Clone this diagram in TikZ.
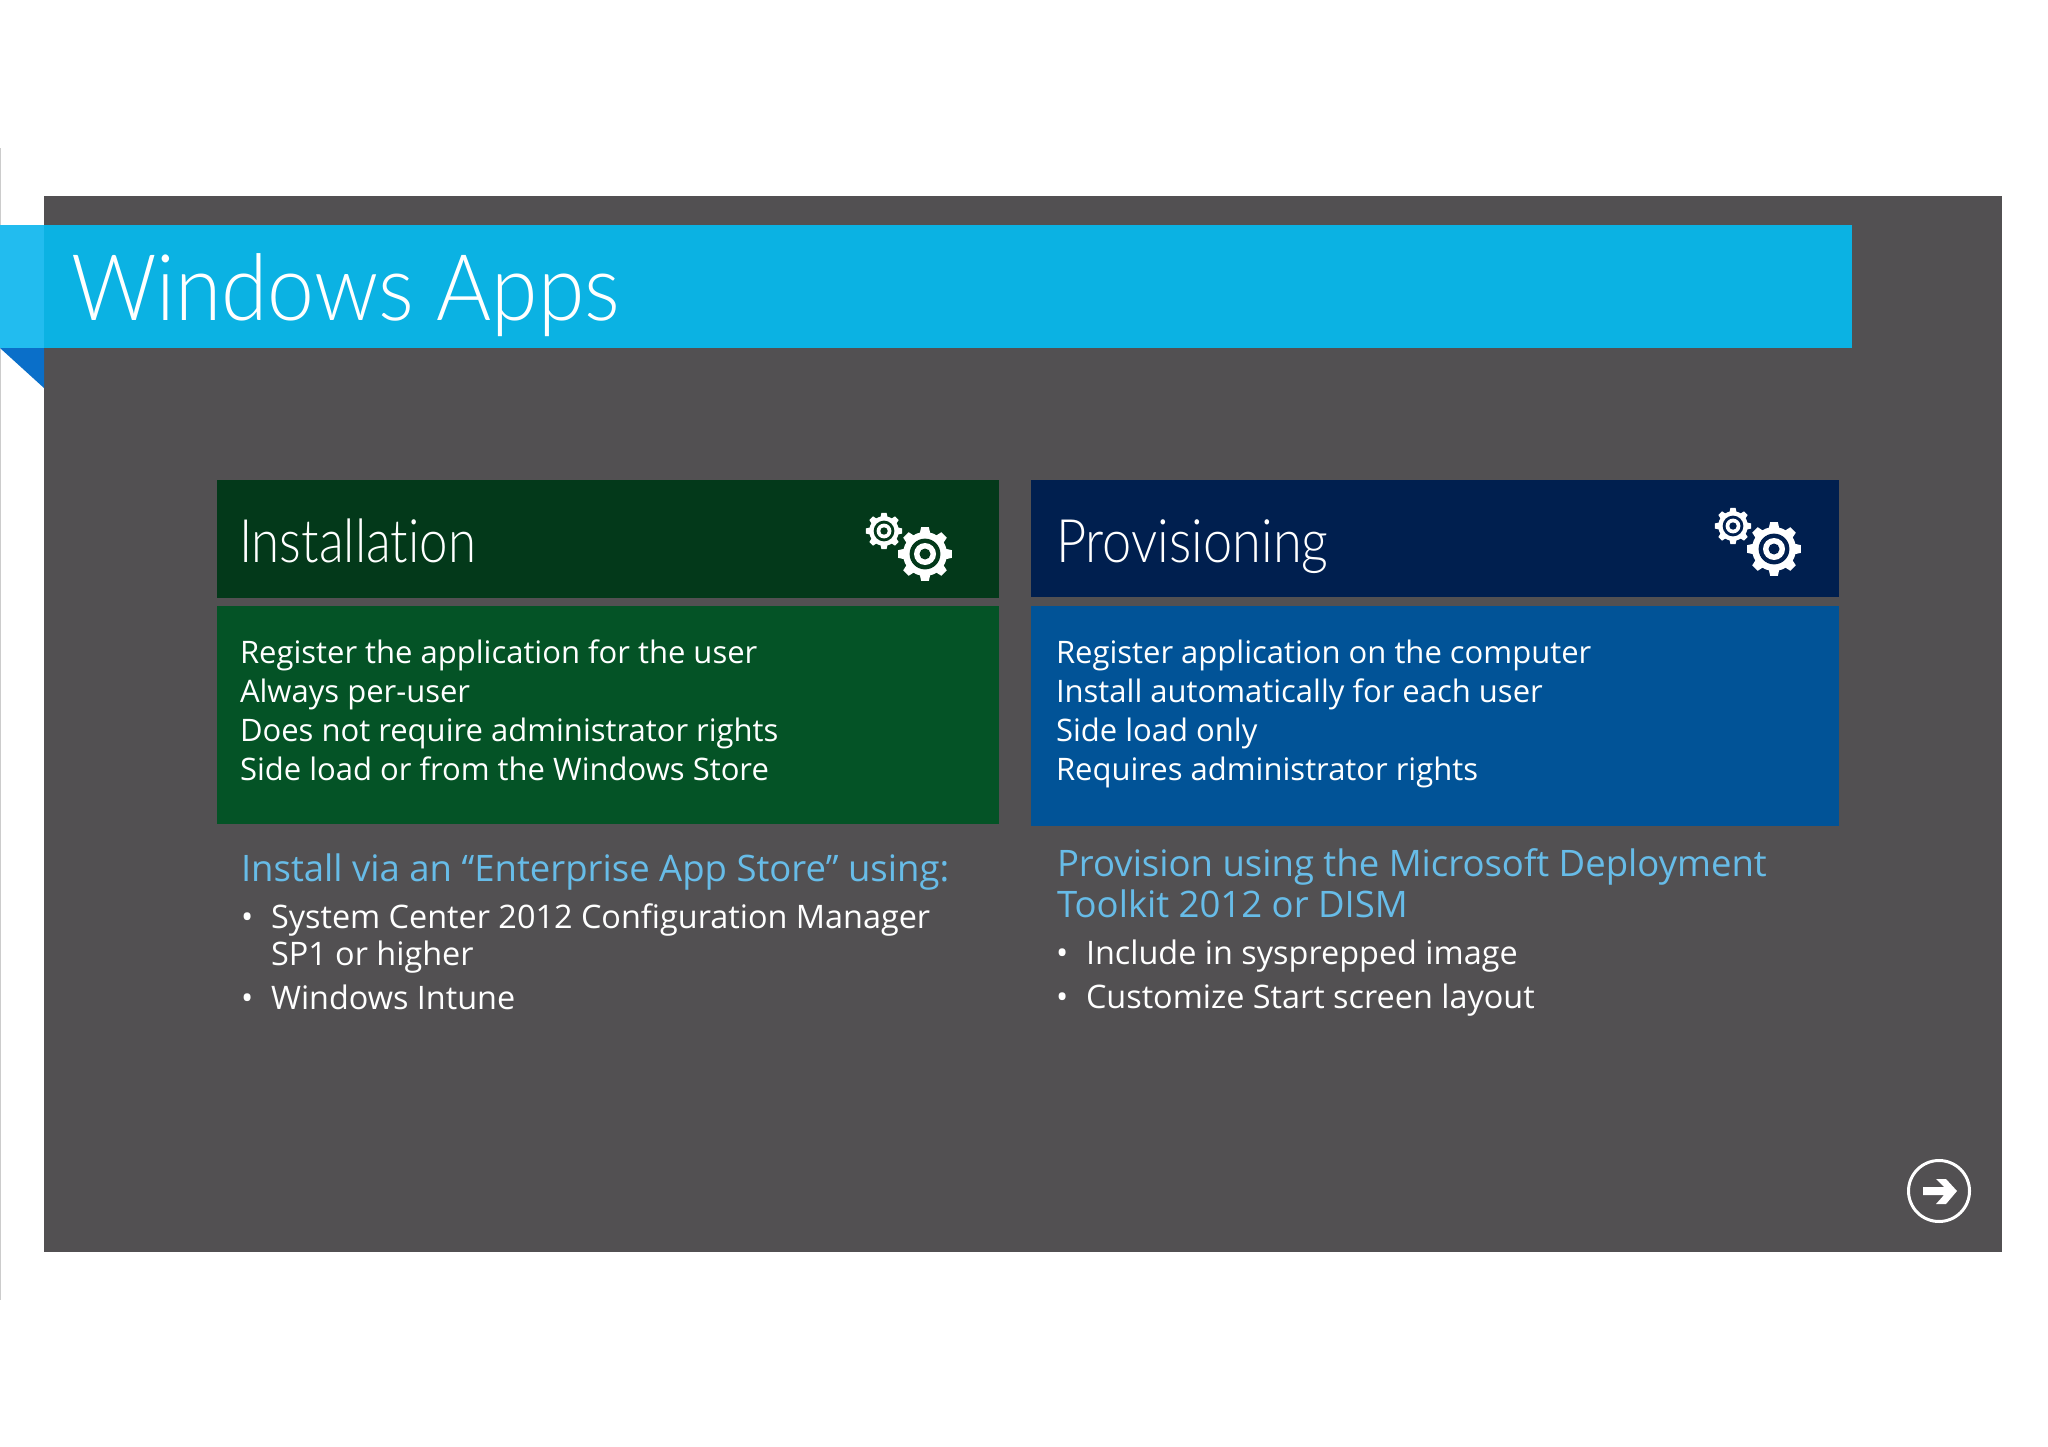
\documentclass[tikz,border=0pt]{standalone}
\usepackage{fontspec}
\setmainfont{Open Sans}
\newfontfamily\titlef[FakeStretch=0.914,Ligatures=NoCommon]{Lato Light}
\newfontfamily\instf[FakeStretch=0.85,Ligatures=NoCommon]{Lato Light}
\newfontfamily\provf[FakeStretch=0.873,Ligatures=NoCommon]{Lato Light}
\definecolor{panelc}{HTML}{525052}
\definecolor{bannerc}{HTML}{0BB2E3}
\definecolor{bannerl}{HTML}{22BCEF}
\definecolor{foldc}{HTML}{0A6FC9}
\definecolor{greenh}{HTML}{03391A}
\definecolor{greenb}{HTML}{045326}
\definecolor{blueh}{HTML}{001F4F}
\definecolor{blueb}{HTML}{015397}
\definecolor{linkc}{HTML}{67BCE8}
\tikzset{
  x=1pt,y=-1pt,
  txt/.style={anchor=base west,inner sep=0pt,outer sep=0pt,text=white},
  body/.style={txt,font=\fontsize{31}{39}\selectfont},
  lead/.style={txt,text=linkc,font=\fontsize{36.5}{41}\selectfont},
  item/.style={txt,font=\fontsize{32.4}{37}\selectfont},
}
\newcommand{\gearat}[4]{%
  \begin{scope}[shift={(#1,#2)},x=#3pt,y=#3pt]
    \fill[white,line join=round] \foreach \a in {0,45,...,315}{
       [rotate=\a] (-0.14,0.98) -- (0.14,0.98) -- (0.2,0.7) -- (-0.2,0.7) -- cycle };
    \fill[white] (0,0) circle[radius=0.8];
    \fill[#4] (0,0) circle[radius=0.56];
    \fill[white] (0,0) circle[radius=0.4];
    \fill[#4] (0,0) circle[radius=0.2];
  \end{scope}}
\begin{document}
\begin{tikzpicture}
\useasboundingbox (0,0) rectangle (2048,1447);
\fill[white] (0,0) rectangle (2048,1447);
\fill[black!20] (0,148) rectangle (1.2,1300);
\fill[panelc] (44,196) rectangle (2002,1252);
\fill[foldc] (0,348) -- (44,348) -- (44,388) -- cycle;
\fill[bannerc] (44,225) rectangle (1852,348);
\fill[bannerl] (0,225) rectangle (44,348);
\node[txt,font=\titlef\fontsize{92}{100}\selectfont] (title) at (71,320) {Windows Apps};

\fill[greenh] (217,480) rectangle (999,598);
\fill[greenb] (217,606) rectangle (999,824);
\fill[blueh] (1031,480) rectangle (1839,597);
\fill[blueb] (1031,606) rectangle (1839,826);

\node[txt,font=\instf\fontsize{60}{70}\selectfont] (insth) at (239,562) {Installation};
\node[txt,font=\provf\fontsize{60}{70}\selectfont] (provh) at (1056,562) {Provisioning};
\gearat{884}{531}{18.5}{greenh}
\gearat{925}{554}{27.5}{greenh}
\gearat{1733}{526}{18.5}{blueh}
\gearat{1774}{549}{27.5}{blueh}

\node[body] (i1) at (240,663) {Register the application for the user};
\node[body] (i2) at (240,702) {Always per-user};
\node[body] (i3) at (240,741) {Does not require administrator rights};
\node[body] (i4) at (240,780) {Side load or from the Windows Store};
\node[body] (p1) at (1056,663) {Register application on the computer};
\node[body] (p2) at (1056,702) {Install automatically for each user};
\node[body] (p3) at (1056,741) {Side load only};
\node[body] (p4) at (1056,780) {Requires administrator rights};

\node[lead] (l1) at (241,881) {Install via an “Enterprise App Store” using:};
\node[item] (b1) at (241,928) {•};
\node[item] (a1) at (271,928) {System Center 2012 Configuration Manager};
\node[item] (a2) at (271,965) {SP1 or higher};
\node[item] (b2) at (241,1009) {•};
\node[item] (a3) at (271,1009) {Windows Intune};

\node[lead] (l2) at (1057,876) {Provision using the Microsoft Deployment};
\node[lead] (l3) at (1057,917) {Toolkit 2012 or DISM};
\node[item] (b3) at (1056,964) {•};
\node[item] (c1) at (1086,964) {Include in sysprepped image};
\node[item] (b4) at (1056,1008) {•};
\node[item] (c2) at (1086,1008) {Customize Start screen layout};

\draw[white,line width=3pt] (1939,1191) circle[radius=30.5];
\fill[white] (1923,1187) -- (1944,1187) -- (1936,1179) -- (1946,1179) -- (1957,1191) -- (1946,1204) -- (1936,1204) -- (1944,1195) -- (1923,1195) -- cycle;
\end{tikzpicture}
\end{document}
